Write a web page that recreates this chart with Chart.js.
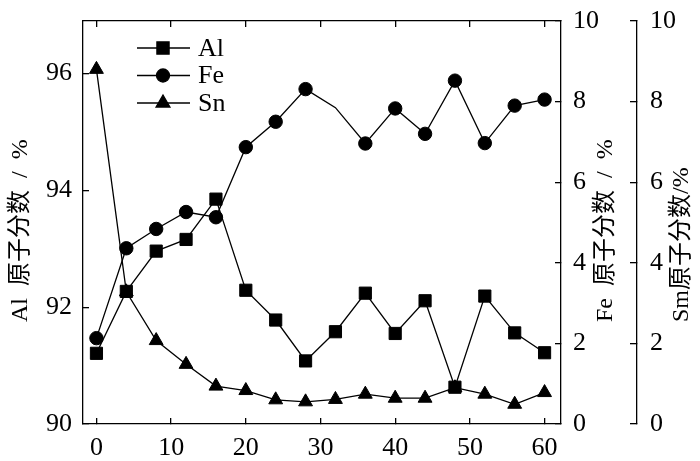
<!DOCTYPE html>
<html>
<head>
<meta charset="utf-8">
<script src="https://cdn.jsdelivr.net/npm/chart.js@4.4.1/dist/chart.umd.min.js"></script>
<style>
  html, body { margin: 0; padding: 0; background: #ffffff; }
  #wrap { width: 700px; height: 461px; }
</style>
</head>
<body>
<div id="wrap"><canvas id="atomChart"></canvas></div>
<script>
// values
const timeValues = [0, 4, 8, 12, 16, 20, 24, 28, 32, 36, 40, 44, 48, 52, 56, 60];
const alValues = [91.21, 92.27, 92.96, 93.16, 93.85, 92.29, 91.78, 91.08, 91.58, 92.24, 91.55, 92.11, 90.63, 92.19, 91.56, 91.22];
const feValues = [2.13, 4.36, 4.84, 5.26, 5.13, 6.87, 7.50, 8.31, 7.85, 6.96, 7.83, 7.20, 8.52, 6.97, 7.90, 8.05];
const snValues = [8.80, 3.28, 2.07, 1.48, 0.94, 0.83, 0.60, 0.55, 0.61, 0.74, 0.64, 0.64, 0.90, 0.74, 0.49, 0.78];

const xTicks = [0, 10, 20, 30, 40, 50, 60];
const alTicks = [90, 92, 94, 96];
const pctTicks = [0, 2, 4, 6, 8, 10];

const seriesNames = ["Al", "Fe", "Sn"];
const axisTitles = ["Al 原子分数 / %", "Fe 原子分数 / %", "Sm原子分数/%"];

const tickFont = { family: "'Liberation Serif', 'Times New Roman', serif", size: 26 };
const titleFont = "24px 'Liberation Serif', 'Noto Sans CJK SC', serif";
const black = "#000000";

function toPoints(ys) {
  return ys.map((y, i) => ({ x: timeValues[i], y: y }));
}

function fixedTicks(list) {
  return scale => { scale.ticks = list.map(v => ({ value: v })); };
}

// fixed box size; drop the label overhang padding so the plot frame stays put
function fixWidth(w) {
  return s => { s.width = w; s.paddingTop = 0; s.paddingBottom = 0; };
}
function fixHeight(h) {
  return s => { s.height = h; s.paddingLeft = 0; s.paddingRight = 0; };
}

function axisBase(extra) {
  return Object.assign({
    type: "linear",
    grid: { drawOnChartArea: false, tickLength: -6, color: black, lineWidth: 1.3 },
    border: { color: black, width: 1.3 },
    ticks: { color: black, font: tickFont, autoSkip: false, maxRotation: 0 },
  }, extra);
}

const legendPlugin = {
  id: "innerLegend",
  afterDatasetsDraw(chart) {
    const ctx = chart.ctx;
    const area = chart.chartArea;
    ctx.save();
    chart.data.datasets.forEach((ds, i) => {
      const y = area.top + 27 + i * 27.5;
      const x0 = area.left + 54;
      ctx.strokeStyle = black;
      ctx.lineWidth = 1.3;
      ctx.beginPath();
      ctx.moveTo(x0, y);
      ctx.lineTo(x0 + 53, y);
      ctx.stroke();
      ctx.fillStyle = black;
      Chart.helpers.drawPoint(ctx, { pointStyle: ds.pointStyle, radius: ds.legendRadius, rotation: 0, borderWidth: 1 }, x0 + 26, y);
      ctx.fillStyle = black;
      ctx.font = "26px 'Liberation Serif', serif";
      ctx.textBaseline = "middle";
      ctx.textAlign = "left";
      ctx.fillText(seriesNames[i], area.left + 115, y + 1);
    });
    ctx.restore();
  }
};

const titlePlugin = {
  id: "axisTitles",
  afterDraw(chart) {
    const ctx = chart.ctx;
    const s = chart.scales;
    const area = chart.chartArea;
    const spots = [s.y.left + 21, s.yFe.left + 45, s.ySm.left + 45];
    ctx.save();
    ctx.fillStyle = black;
    ctx.font = titleFont;
    ctx.textBaseline = "middle";
    ctx.textAlign = "left";
    spots.forEach((x, i) => {
      ctx.save();
      ctx.translate(x, area.bottom - 102);
      ctx.rotate(-Math.PI / 2);
      ctx.wordSpacing = i === 2 ? "0px" : "6px";
      ctx.fillText(axisTitles[i], 0, 0);
      ctx.restore();
    });
    ctx.restore();
  }
};

function lineSet(label, values, axis, style, radius) {
  return {
    label: label,
    data: toPoints(values),
    yAxisID: axis,
    borderColor: black,
    backgroundColor: black,
    borderWidth: 1.3,
    pointStyle: style,
    pointRadius: radius,
    pointBorderWidth: 1,
    pointBackgroundColor: black,
    pointBorderColor: black,
    legendRadius: typeof radius === "function" ? 6.5 : radius,
    tension: 0,
    fill: false,
  };
}

new Chart(document.getElementById("atomChart"), {
  type: "line",
  data: {
    datasets: [
      lineSet("Al", alValues, "y", "rect", 8.6),
      lineSet("Fe", feValues, "yFe", "circle", ctx => (ctx.dataIndex === 8 ? 0 : 6.7)),
      lineSet("Sn", snValues, "ySm", "triangle", 8),
    ],
  },
  options: {
    responsive: true,
    maintainAspectRatio: false,
    animation: false,
    devicePixelRatio: 1,
    layout: { padding: 0 },
    plugins: { legend: { display: false }, tooltip: { enabled: false } },
    scales: {
      x: axisBase({
        position: "bottom", min: -1.8, max: 62.2,
        afterBuildTicks: fixedTicks(xTicks),
        afterFit: fixHeight(37),
        ticks: { color: black, font: tickFont, autoSkip: false, maxRotation: 0, padding: 15 },
      }),
      x2: axisBase({
        position: "top", min: -1.8, max: 62.2,
        afterBuildTicks: fixedTicks(xTicks),
        afterFit: fixHeight(21),
        ticks: { display: false },
      }),
      y: axisBase({
        position: "left", min: 90, max: 96.9,
        afterBuildTicks: fixedTicks(alTicks),
        afterFit: fixWidth(83),
        ticks: { color: black, font: tickFont, padding: 17 },
      }),
      yFe: axisBase({
        position: "right", min: 0, max: 10, weight: 0,
        afterBuildTicks: fixedTicks(pctTicks),
        afterFit: fixWidth(76),
        ticks: { color: black, font: tickFont, padding: 18 },
      }),
      ySm: axisBase({
        position: "right", min: 0, max: 10, weight: 1,
        afterBuildTicks: fixedTicks(pctTicks),
        afterFit: fixWidth(63),
        grid: { drawOnChartArea: false, tickLength: -7, color: black, lineWidth: 1.3 },
        ticks: { color: black, font: tickFont, padding: 20 },
      }),
    },
  },
  plugins: [legendPlugin, titlePlugin],
});
</script>
</body>
</html>
